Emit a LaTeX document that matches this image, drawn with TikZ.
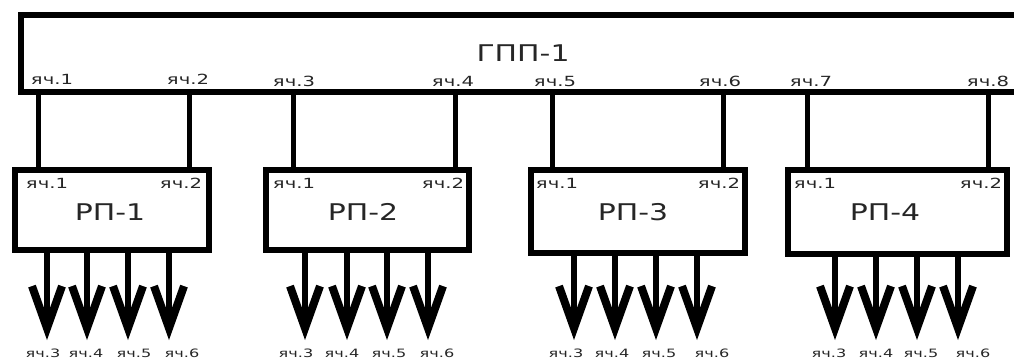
\documentclass[tikz,border=0pt]{standalone}
\usepackage{fontspec}
\setmainfont{DejaVu Sans}
\newfontfamily\cellfont[FakeStretch=1.4]{DejaVu Sans}
\newfontfamily\namefont[FakeStretch=1.3]{DejaVu Sans}
\usetikzlibrary{arrows.meta}
\begin{document}
\begin{tikzpicture}[x=1pt,y=-1pt,
  box/.style={draw, line width=6pt, inner sep=0pt, outer sep=0pt},
  lnk/.style={line width=5pt},
  outarrow/.style={line width=6pt, -{Straight Barb[length=42pt,width=30pt,line width=8pt]}},
  celltext/.style={font=\cellfont\fontsize{14}{14}\selectfont, inner sep=0pt, text=black!85},
  outtext/.style={font=\cellfont\fontsize{11.5}{11.5}\selectfont, inner sep=0pt, text=black!85},
  boxtitle/.style={font=\namefont\fontsize{23}{23}\selectfont, inner sep=0pt, text=black!85}]
\useasboundingbox (0,0) rectangle (1014,360);
\clip (0,0) rectangle (1014,360);
% main box
\node[box, minimum width=1004pt, minimum height=77pt] (gpp) at (523,53.5) {};
\node[boxtitle] (gppname) at (523,53) {ГПП-1};
% RP boxes
\node[box, minimum width=194pt, minimum height=80pt] (rp1) at (112,210) {};
\node[box, minimum width=203pt, minimum height=80pt] (rp2) at (367.5,210) {};
\node[box, minimum width=214pt, minimum height=83pt] (rp3) at (638,211.5) {};
\node[box, minimum width=219pt, minimum height=84pt] (rp4) at (897.5,212) {};
\node[boxtitle] (rp1name) at (110,212) {РП-1};
\node[boxtitle] (rp2name) at (363,212) {РП-2};
\node[boxtitle] (rp3name) at (633,212) {РП-3};
\node[boxtitle] (rp4name) at (885,212) {РП-4};
% top cell labels
\foreach \n/\x/\y in {1/52/79,2/188/79,3/294/81,4/453/81,5/555/81,6/720/81,7/811/81,8/988/81}
  \node[celltext] (g\n) at (\x,\y) {яч.\n};
% links
\foreach \x/\r [count=\i] in {38/rp1,189/rp1,293/rp2,455/rp2,552/rp3,723/rp3,807/rp4,988/rp4}{
  \coordinate (k\i) at (\x,0);
  \draw[lnk] (gpp.south -| k\i) -- (\r.north -| k\i);
}
% RP input labels
\foreach \r/\a/\b in {rp1/47/181,rp2/294/443,rp3/557/719,rp4/815/981}{
  \node[celltext] (\r c1) at (\a,183) {яч.1};
  \node[celltext] (\r c2) at (\b,183) {яч.2};
}
% outgoing arrows and labels
\foreach \r/\sa/\sb/\sc/\sd/\la/\lb/\lc/\ld in {
  rp1/47/87/128/169/43/86/134/182,
  rp2/305/347/387/428/296/342/389/437,
  rp3/574/615/656/697/566/612/659/712,
  rp4/835/876/917/958/829/876/921/973}{
  \foreach \s/\l/\k in {\sa/\la/3,\sb/\lb/4,\sc/\lc/5,\sd/\ld/6}{
    \coordinate (\r t\k) at (\s,340);
    \draw[outarrow] (\r.south -| \r t\k) -- (\r t\k);
    \node[outtext] (\r o\k) at (\l,353) {яч.\k};
  }
}
\end{tikzpicture}
\end{document}
